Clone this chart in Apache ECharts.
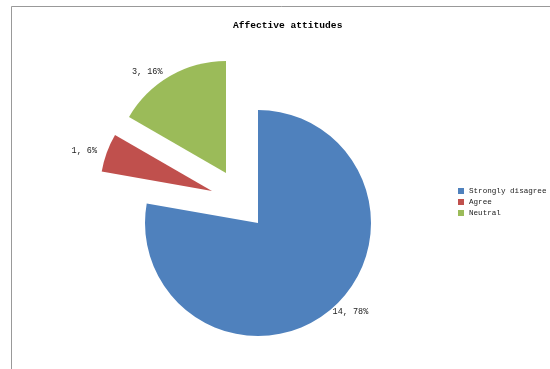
<!DOCTYPE html>
<html>
<head>
<meta charset="utf-8">
<script src="https://cdn.jsdelivr.net/npm/echarts@6/dist/echarts.min.js"></script>
<style>
  html, body { margin: 0; padding: 0; background: #fff; }
  #chart { width: 550px; height: 369px; }
</style>
</head>
<body>
<div id="chart"></div>
<script>
const categories = ['Strongly disagree', 'Agree', 'Neutral'];
const values = [14, 1, 3];
const percentLabels = ['78%', '6%', '16%'];
const colors = ['#4F81BD', '#C0504D', '#9BBB59'];

const centers = [[258, 223], [212, 191], [226, 173]];
const radii = [113, 112, 112];
const labelGap = [[3, 0], [5, 5], [5, 5]];
const font = 'Liberation Mono';

const chart = echarts.init(document.getElementById('chart'), null, { renderer: 'canvas' });

const series = categories.map((owner, i) => ({
  type: 'pie',
  center: centers[i],
  radius: [0, radii[i]],
  startAngle: 90,
  clockwise: true,
  avoidLabelOverlap: false,
  silent: true,
  animation: false,
  label: {
    position: 'outside',
    fontFamily: font,
    fontSize: 8.5,
    color: '#222',
    distanceToLabelLine: labelGap[i][1]
  },
  labelLine: { show: false, length: labelGap[i][0], length2: 0 },
  emphasis: { disabled: true },
  data: categories.map((n, j) => ({
    name: n,
    value: values[j],
    itemStyle: { color: j === i ? colors[j] : 'rgba(0,0,0,0)' },
    label: { show: j === i, formatter: values[j] + ', ' + percentLabels[j] }
  }))
}));

chart.setOption({
  backgroundColor: '#fff',
  animation: false,
  title: {
    text: 'Affective attitudes',
    left: 228,
    top: 16,
    textStyle: { fontFamily: font, fontWeight: 'bold', fontSize: 9.6, color: '#000' }
  },
  legend: {
    orient: 'vertical',
    left: 458,
    top: 187,
    icon: 'rect',
    itemWidth: 6,
    itemHeight: 6,
    itemGap: 3,
    padding: 0,
    textStyle: { fontFamily: font, fontSize: 7.6, lineHeight: 8, color: '#222' },
    data: categories.map((n, j) => ({ name: n, itemStyle: { color: colors[j] } }))
  },
  graphic: [{
    type: 'rect',
    silent: true,
    shape: { x: 11.5, y: 6.5, width: 600, height: 400 },
    style: { fill: 'none', stroke: '#999', lineWidth: 1 }
  }],
  series: series
});
</script>
</body>
</html>
